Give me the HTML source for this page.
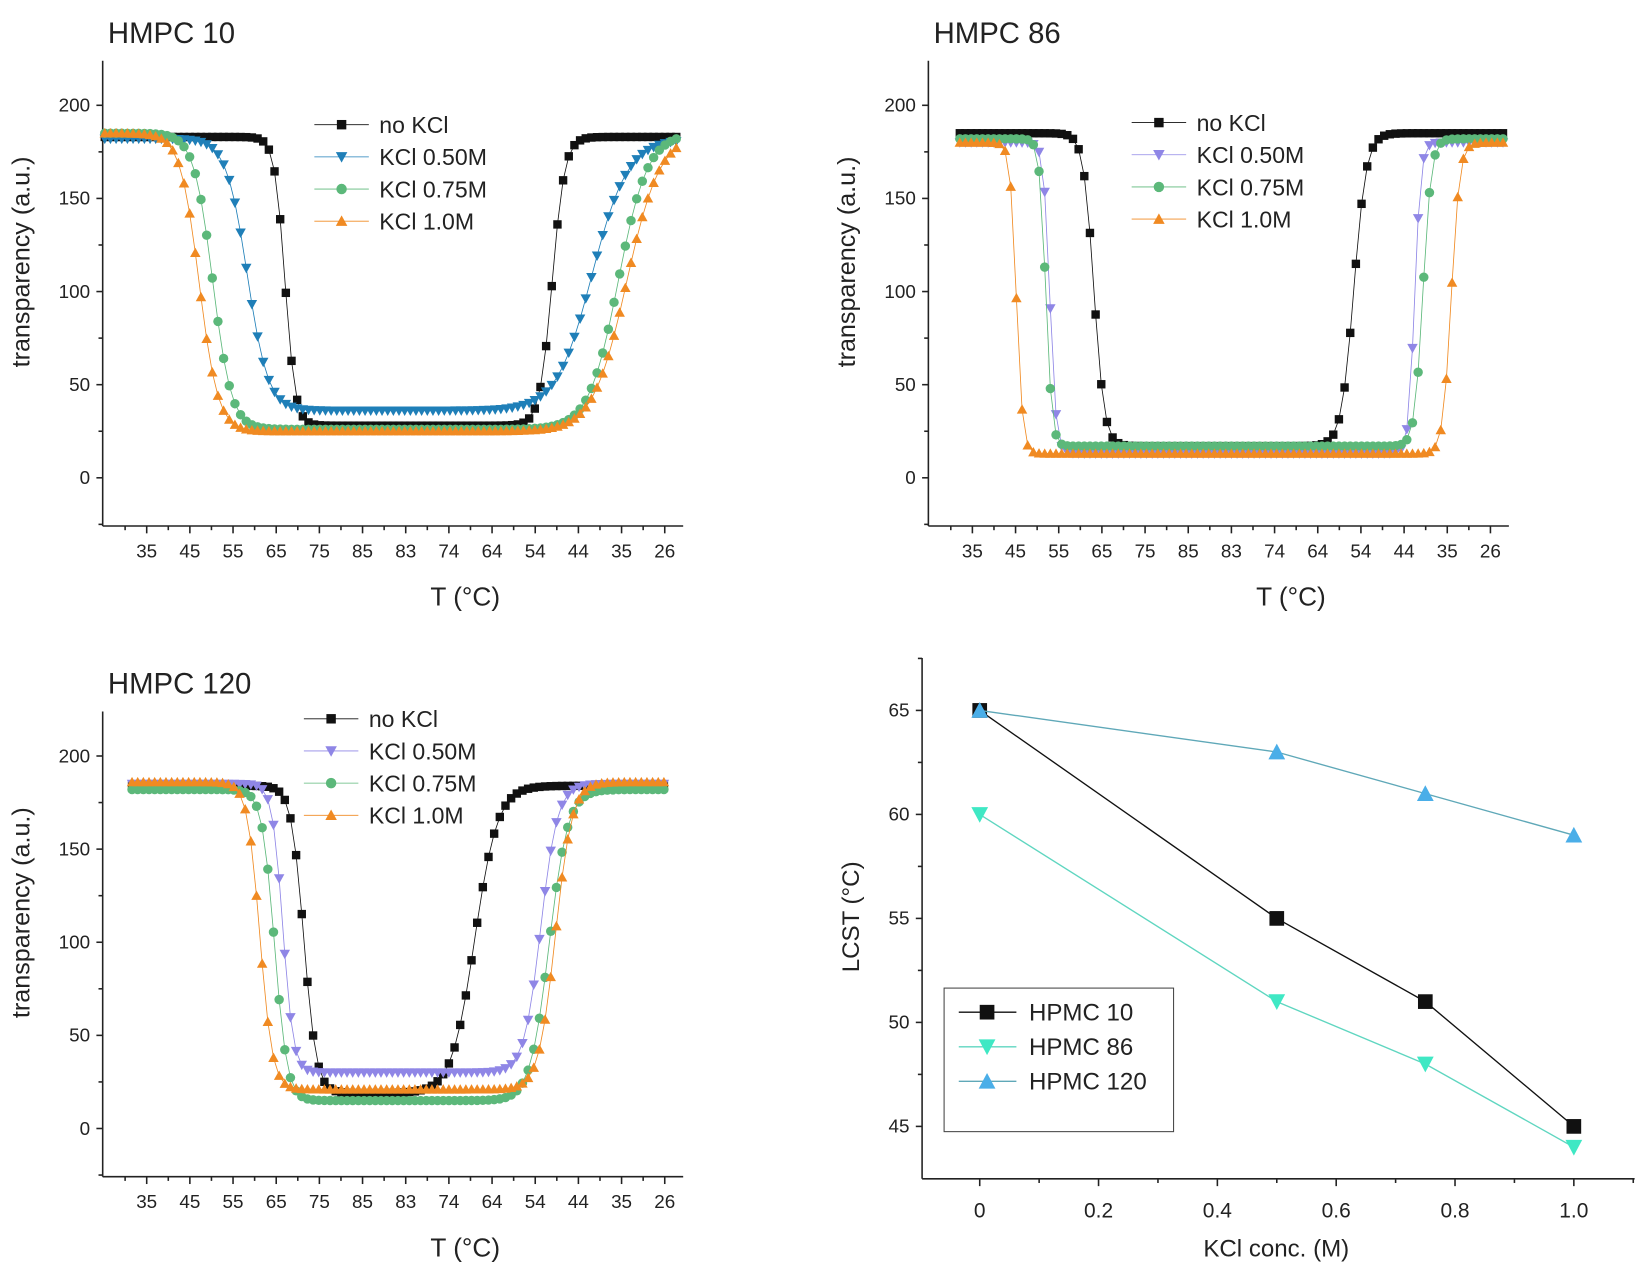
<!DOCTYPE html>
<html><head><meta charset="utf-8"><style>
html,body{margin:0;padding:0;background:#fff;}
svg{display:block;font-family:"Liberation Sans",Arial,sans-serif;}
</style></head><body>
<svg id="s" width="1643" height="1271" viewBox="0 0 1568 1213" preserveAspectRatio="none" xmlns="http://www.w3.org/2000/svg">
<rect width="1568" height="1213" fill="#fff"/>
<g id="g"></g>
</svg>
<script>
var out=[];
function L(x1,y1,x2,y2,c,w){out.push('<line x1="'+x1+'" y1="'+y1+'" x2="'+x2+'" y2="'+y2+'" stroke="'+(c||'#222')+'" stroke-width="'+(w||1.5)+'"/>');}
function T(x,y,t,sz,anc,extra){out.push('<text x="'+x+'" y="'+y+'" font-size="'+sz+'" fill="#222" text-anchor="'+(anc||'start')+'" '+(extra||'')+'>'+t+'</text>');}
function M(type,x,y,c,s){s=s||4;
 if(type=='sq')out.push('<rect x="'+(x-s)+'" y="'+(y-s)+'" width="'+(2*s)+'" height="'+(2*s)+'" fill="'+c+'"/>');
 else if(type=='ci')out.push('<circle cx="'+x+'" cy="'+y+'" r="'+(s+0.5)+'" fill="'+c+'"/>');
 else if(type=='dn')out.push('<polygon points="'+(x-s-1)+','+(y-s)+' '+(x+s+1)+','+(y-s)+' '+x+','+(y+s+1)+'" fill="'+c+'"/>');
 else out.push('<polygon points="'+(x-s-1)+','+(y+s)+' '+(x+s+1)+','+(y+s)+' '+x+','+(y-s-1)+'" fill="'+c+'"/>');}
function sig(z){return 1/(1+Math.exp(-z));}
var tl=['35','45','55','65','75','85','83','74','64','54','44','35','26'];
function panel(ox,oy,title,ser,leg,xr){
 var top=oy-398, bot=oy+46, right=ox+554;
 L(ox,top,ox,bot);L(ox,bot,right,bot);
 for(var v=0;v<=200;v+=50){var y=oy-v*1.7775;L(ox-6,y,ox,y);T(ox-12,y+6,v,18,'end');}
 for(var v=-25;v<=225;v+=50){var y=oy-v*1.7775;if(y>top)L(ox-4,y,ox,y);}
 for(var i=0;i<13;i++){var x=ox+42+i*41.2;L(x,bot,x,bot+7);T(x,bot+30,tl[i],18,'middle');L(x-20.6,bot,x-20.6,bot+4);}
 T(ox+5,oy-415,title,28);
 T(ox-70,(top+bot)/2-30,'transparency (a.u.)',24,'middle','transform="rotate(-90 '+(ox-70)+' '+((top+bot)/2-30)+')"');
 T(ox+346,bot+76,'T (°C)',25,'middle');
 ser.forEach(function(s){
  var pts=[];
  for(var x=xr[0];x<=xr[1];x+=5.4){
   var d=1-sig((x-s.c1)/s.w1), u=sig((x-s.c2)/s.w2);
   var v=s.lo+(s.hi-s.lo)*Math.max(d,u);
   pts.push([x,oy-v*1.7775]);}
  out.push('<polyline fill="none" stroke="'+s.c+'" stroke-width="0.8" points="'+pts.map(function(p){return p[0].toFixed(1)+','+p[1].toFixed(1)}).join(' ')+'"/>');
  pts.forEach(function(p){M(s.t,p[0],p[1],s.c,4);});
 });
 var names=['no KCl','KCl 0.50M','KCl 0.75M','KCl 1.0M'];
 ser.forEach(function(s,i){var y=leg[1]+i*30.7;L(leg[0],y,leg[0]+52,y,s.c,0.8);M(s.t,leg[0]+26,y,s.c,4.5);T(leg[0]+62,y+8,names[i],22);});
}
var K='#111',B='#1f7fb8',G='#5cb87a',O='#f08a22',P='#8f86e6';
panel(98,456,'HMPC 10',[
 {c:K,t:'sq',hi:183,lo:28,c1:272,w1:5,c2:527,w2:6},
 {c:B,t:'dn',hi:182,lo:36,c1:236,w1:10,c2:565,w2:17},
 {c:G,t:'ci',hi:185,lo:26,c1:203,w1:9,c2:590,w2:14},
 {c:O,t:'up',hi:185,lo:25,c1:190,w1:9,c2:598,w2:16}],[300,119],[100,650]);
panel(886,456,'HMPC 86',[
 {c:K,t:'sq',hi:185,lo:17,c1:1044,w1:5,c2:1292,w2:6},
 {c:P,t:'dn',hi:180,lo:13,c1:1002,w1:3,c2:1350,w2:3},
 {c:G,t:'ci',hi:182,lo:17,c1:998,w1:3,c2:1358,w2:4},
 {c:O,t:'up',hi:180,lo:13,c1:970,w1:3,c2:1385,w2:4}],[1080,117],[916,1438]);
panel(98,1077,'HMPC 120',[
 {c:K,t:'sq',hi:184,lo:19,c1:290,w1:6,c2:453,w2:11},
 {c:P,t:'dn',hi:185,lo:30,c1:270,w1:5,c2:516,w2:8},
 {c:G,t:'ci',hi:182,lo:15,c1:262,w1:6,c2:524,w2:9},
 {c:O,t:'up',hi:186,lo:21,c1:248,w1:6,c2:530,w2:8}],[290,686],[126,636]);
(function(){
 var ox=880,top=628,bot=1125,right=1560;
 function X(v){return 935+v*567;} function Y(v){return 678+(65-v)*19.85;}
 L(ox,top,ox,bot);L(ox,bot,right,bot);
 for(var v=45;v<=65;v+=5){L(ox-6,Y(v),ox,Y(v));T(ox-12,Y(v)+6,v,18,'end');}
 for(var v=47.5;v<=67.5;v+=5){if(Y(v)>top)L(ox-4,Y(v),ox,Y(v));}
 for(var i=0;i<=5;i++){var v=i*0.2;L(X(v),bot,X(v),bot+7);T(X(v),bot+37,i==0?'0':v.toFixed(1),20,'middle');}
 for(var i=-1;i<=5;i++){var x=X(i*0.2+0.1);if(x>ox&&x<right)L(x,bot,x,bot+4);}
 T(1218,1199,'KCl conc. (M)',23,'middle');
 T(820,875,'LCST (°C)',23,'middle','transform="rotate(-90 820 875)"');
 var xs=[0,0.5,0.75,1];
 var S=[{c:'#111',l:'#111',t:'sq',d:[65,55,51,45],n:'HPMC 10'},
  {c:'#3fe8c4',l:'#5fd6c0',t:'dn',d:[60,51,48,44],n:'HPMC 86'},
  {c:'#4aaee8',l:'#5fa8b8',t:'up',d:[65,63,61,59],n:'HPMC 120'}];
 S.forEach(function(s){out.push('<polyline fill="none" stroke="'+s.l+'" stroke-width="1.3" points="'+xs.map(function(x,i){return X(x)+','+Y(s.d[i])}).join(' ')+'"/>');
  xs.forEach(function(x,i){M(s.t,X(x),Y(s.d[i]),s.c,7);});});
 out.push('<rect x="901" y="943" width="219" height="137" fill="none" stroke="#444" stroke-width="1"/>');
 S.forEach(function(s,i){var y=966+i*33;L(915,y,970,y,s.l,1.3);M(s.t,942,y,s.c,7);T(982,y+8,s.n,23);});
})();
document.getElementById('g').innerHTML=out.join('');
</script>
</body></html>
